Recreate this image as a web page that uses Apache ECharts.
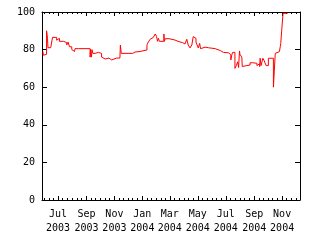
<!DOCTYPE html>
<html>
<head>
<meta charset="utf-8">
<script src="https://cdn.jsdelivr.net/npm/echarts@6/dist/echarts.min.js"></script>
<style>
html, body { margin: 0; padding: 0; background: #fff; }
#chart { width: 320px; height: 240px; }
</style>
</head>
<body>
<div id="chart"></div>
<script>
// 数据：日期（每段开始）和对应数值
var dates = [
  '2003-05-29', '2003-05-30', '2003-06-03', '2003-06-06', '2003-06-08', '2003-06-09',
  '2003-06-15', '2003-06-19', '2003-06-28', '2003-07-02', '2003-07-04', '2003-07-13',
  '2003-07-20', '2003-07-23', '2003-07-26', '2003-07-31', '2003-08-03', '2003-08-06',
  '2003-08-07', '2003-08-09', '2003-08-11', '2003-08-14', '2003-08-18', '2003-09-09',
  '2003-09-10', '2003-09-12', '2003-09-13', '2003-09-15', '2003-09-20', '2003-09-23',
  '2003-09-27', '2003-10-01', '2003-10-04', '2003-10-08', '2003-10-12', '2003-10-16',
  '2003-10-20', '2003-10-26', '2003-11-06', '2003-11-08', '2003-11-13', '2003-11-14',
  '2003-11-16', '2003-12-11', '2003-12-16', '2003-12-27', '2004-01-11', '2004-01-14',
  '2004-01-18', '2004-01-22', '2004-01-25', '2004-01-29', '2004-02-01', '2004-02-03',
  '2004-02-05', '2004-02-07', '2004-02-17', '2004-02-18', '2004-02-20', '2004-02-28',
  '2004-03-12', '2004-03-21', '2004-03-23', '2004-03-29', '2004-04-03', '2004-04-07',
  '2004-04-10', '2004-04-14', '2004-04-18', '2004-04-21', '2004-04-24', '2004-04-27',
  '2004-05-01', '2004-05-02', '2004-05-05', '2004-05-07', '2004-05-10', '2004-05-17',
  '2004-05-24', '2004-06-08', '2004-06-19', '2004-06-26', '2004-06-28', '2004-07-07',
  '2004-07-12', '2004-07-14', '2004-07-16', '2004-07-21', '2004-07-24', '2004-07-27',
  '2004-07-29', '2004-07-31', '2004-08-01', '2004-08-05', '2004-08-06', '2004-08-09',
  '2004-08-16', '2004-08-23', '2004-08-29', '2004-09-07', '2004-09-10', '2004-09-13',
  '2004-09-14', '2004-09-16', '2004-09-20', '2004-09-23', '2004-09-27', '2004-10-02',
  '2004-10-13', '2004-10-15', '2004-10-17', '2004-10-18', '2004-10-26', '2004-10-28',
  '2004-10-29', '2004-10-31', '2004-11-03', '2004-11-13'
];
var values = [
  79, 77, 77.5, 90, 86, 81,
  81.5, 86.5, 85, 86, 84.4, 83.7,
  82.5, 84, 81.5, 80, 79, 80,
  80.5, 81.5, 80.5, 79.5, 80.5, 76,
  80, 76, 80, 78, 77, 78.5,
  77.5, 78, 76, 75, 74.5, 75.5,
  74.5, 75.5, 74.5, 75.5, 75.4, 82.4,
  78, 78.7, 79, 79.8, 82.5, 84,
  85.5, 86.5, 87.5, 88.3, 87, 84.4,
  86, 84.4, 88.3, 84.4, 85.8, 85.1,
  84.2, 84.8, 83.7, 83, 83.5, 85.5,
  82.5, 80.9, 82.5, 86.9, 86, 84,
  83, 80.9, 83.3, 80.5, 81.3, 81,
  80.5, 79.5, 78.5, 79, 78.3, 77.3,
  74.5, 77, 78.5, 70, 71.5, 73.5,
  70.5, 79.3, 77.5, 76, 71, 71.5,
  71.8, 73, 72.7, 71.5, 72.5, 71,
  75.4, 71.5, 75.4, 74, 71.5, 75.4,
  60, 69, 78, 78.9, 78, 81.6,
  83.3, 90, 99.3, 99.3
];
// 刻度
var majorTickDates = ['2003-07-01', '2003-09-01', '2003-11-01', '2004-01-01', '2004-03-01',
  '2004-05-01', '2004-07-01', '2004-09-01', '2004-11-01'];
var monthNames = ['Jan', 'Feb', 'Mar', 'Apr', 'May', 'Jun', 'Jul', 'Aug', 'Sep', 'Oct', 'Nov', 'Dec'];
var minorTickDays = [1, 11, 21];
var xMin = '2003-05-27', xMax = '2004-12-10';

//字符串转UTC毫秒
function toMs(s) {
  var p = s.split('-');
  return Date.UTC(+p[0], +p[1] - 1, +p[2]);
}

var minMs = toMs(xMin), maxMs = toMs(xMax);
var majorTicks = majorTickDates.map(toMs);
var minorTicks = [];
for (var y = 2003; y <= 2004; y++) {
  for (var m = 0; m < 12; m++) {
    minorTickDays.forEach(function(d) {
      var t = Date.UTC(y, m, d);
      if (t > minMs && t < maxMs && majorTicks.indexOf(t) == -1) minorTicks.push(t);
    });
  }
}

var seriesData = dates.map(function(d, i) { return [toMs(d), values[i]]; });

var font = { fontFamily: 'DejaVu Sans Mono', fontSize: 10, color: '#000' };
var black = { color: '#000', width: 1 };

function xAxisItem(pos, ticks, len, showLine, showLabel) {
  return {
    type: 'value', position: pos, min: minMs, max: maxMs,
    axisLine: { show: showLine, lineStyle: black },
    axisTick: { show: true, inside: true, length: len, customValues: ticks, lineStyle: black },
    axisLabel: {
      show: showLabel, customValues: ticks, margin: 7, lineHeight: 14,
      fontFamily: font.fontFamily, fontSize: font.fontSize, color: font.color,
      formatter: function(v) {
        var d = new Date(v);
        return monthNames[d.getUTCMonth()] + '\n' + d.getUTCFullYear();
      }
    },
    splitLine: { show: false }
  };
}

function yAxisItem(pos, showLabel) {
  return {
    type: 'value', position: pos, min: 0, max: 100, interval: 20,
    axisLine: { show: true, lineStyle: black },
    axisTick: { show: true, inside: true, length: 5, lineStyle: black },
    axisLabel: { show: showLabel, margin: 7, fontFamily: font.fontFamily, fontSize: font.fontSize, color: font.color },
    splitLine: { show: false }
  };
}

var myChart = echarts.init(document.getElementById('chart'));
var option = {
  animation: false,
  backgroundColor: '#fff',
  grid: { left: 42, right: 20, top: 12, bottom: 40, containLabel: false, outerBoundsMode: 'none' },
  xAxis: [
    xAxisItem('bottom', majorTicks, 4, true, true),
    xAxisItem('bottom', minorTicks, 2, false, false),
    xAxisItem('top', majorTicks, 4, true, false),
    xAxisItem('top', minorTicks, 2, false, false)
  ],
  yAxis: [yAxisItem('left', true), yAxisItem('right', false)],
  series: [{
    type: 'line',
    step: 'end',
    xAxisIndex: 0,
    yAxisIndex: 0,
    showSymbol: false,
    symbol: 'none',
    lineStyle: { color: '#ff0000', width: 1 },
    data: seriesData
  }]
};
myChart.setOption(option);
</script>
</body>
</html>
